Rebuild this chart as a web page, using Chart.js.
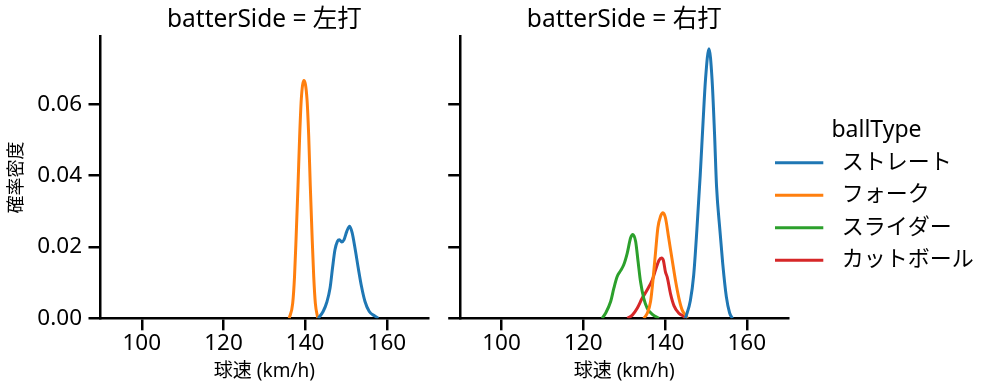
<!DOCTYPE html>
<html><head><meta charset="utf-8">
<script src="https://cdn.jsdelivr.net/npm/chart.js@4.4.1/dist/chart.umd.min.js"></script>
<style>
html,body{margin:0;padding:0;background:#fff;width:997px;height:391px;overflow:hidden;}
canvas{position:absolute;top:0;}
#c1{left:0;}
#c2{left:440px;}
</style></head><body>
<canvas id="c1" width="440" height="391"></canvas>
<canvas id="c2" width="557" height="391"></canvas>
<script>
// ---- data ----
const BALL_TYPES = ['ストレート', 'フォーク', 'スライダー', 'カットボール'];
const PANEL_TITLES = ['batterSide = 左打', 'batterSide = 右打'];
const X_LABEL = '球速 (km/h)';
const Y_LABEL = '確率密度';
const LEGEND_TITLE = 'ballType';
const X_TICKS = [100, 120, 140, 160];
const Y_TICKS = [0, 0.02, 0.04, 0.06];

// 左打
const LEFT_STRAIGHT_X = [143.2, 144.4, 145.3, 146.1, 146.7, 147.3, 147.9, 148.4, 148.95, 149.5, 150.2, 150.9, 151.5, 152.2, 153.0, 153.8, 154.65, 155.7, 157.1, 157.9];
const LEFT_STRAIGHT_Y = [0, 0.0019, 0.0045, 0.0085, 0.0141, 0.0192, 0.0216, 0.0220, 0.0214, 0.0220, 0.0244, 0.0258, 0.0240, 0.0197, 0.0141, 0.0089, 0.0047, 0.0019, 0.0006, 0];
const LEFT_FORK_X = [136.1, 136.95, 137.4, 137.8, 138.25, 138.66, 139.06, 139.7, 140.45, 140.87, 141.26, 141.7, 142.1, 142.5, 143.1];
const LEFT_FORK_Y = [0, 0.0042, 0.0117, 0.0230, 0.0371, 0.0512, 0.0615, 0.0667, 0.0615, 0.0512, 0.0371, 0.0230, 0.0117, 0.0042, 0];

// 右打
const RIGHT_STRAIGHT_X = [145.0, 146.2, 147.0, 147.8, 148.6, 149.3, 149.9, 150.75, 151.5, 152.1, 152.6, 153.4, 154.1, 155.0, 155.8, 156.5];
const RIGHT_STRAIGHT_Y = [0, 0.0050, 0.0120, 0.0250, 0.0400, 0.0550, 0.0670, 0.0756, 0.0670, 0.0520, 0.0370, 0.0250, 0.0155, 0.0060, 0.0015, 0];
const RIGHT_FORK_X = [134.8, 135.65, 136.46, 137.1, 137.7, 138.25, 138.9, 139.5, 140.1, 140.9, 141.8, 142.6, 143.4, 144.2, 145.0, 145.5];
const RIGHT_FORK_Y = [0, 0.0014, 0.0047, 0.0113, 0.0188, 0.0254, 0.0286, 0.0296, 0.0282, 0.0225, 0.0160, 0.0103, 0.0056, 0.0023, 0.0009, 0];
const RIGHT_SLIDER_X = [124.6, 125.45, 126.7, 127.5, 128.3, 129.1, 129.9, 130.76, 131.57, 132.1, 132.8, 133.4, 134.0, 134.8, 135.65, 136.9, 138.5];
const RIGHT_SLIDER_Y = [0, 0.0014, 0.0047, 0.0085, 0.0117, 0.0133, 0.0150, 0.0183, 0.0225, 0.0235, 0.0216, 0.0160, 0.0103, 0.0056, 0.0028, 0.0011, 0];
const RIGHT_CUT_X = [130.8, 132.0, 133.2, 134.4, 135.65, 136.9, 137.7, 138.5, 139.15, 139.6, 140.1, 140.55, 141.36, 142.2, 143.4, 144.6, 145.0];
const RIGHT_CUT_Y = [0, 0.0009, 0.0028, 0.0056, 0.0080, 0.0108, 0.0136, 0.0162, 0.0169, 0.0162, 0.0130, 0.0115, 0.0068, 0.0035, 0.0014, 0.0005, 0];

// ---- styling ----
const PALETTE = ['#1f77b4', '#ff7f0e', '#2ca02c', '#d62728'];
const FONT = '"Noto Sans", "Noto Sans CJK JP", sans-serif';
Chart.defaults.font.family = FONT;
Chart.defaults.color = '#000';

function pts(xs, ys) { return xs.map((x, i) => ({ x: x, y: ys[i] })); }
function ds(typeIdx, xs, ys) {
  return {
    label: BALL_TYPES[typeIdx],
    data: pts(xs, ys),
    borderColor: PALETTE[typeIdx],
    backgroundColor: PALETTE[typeIdx],
    borderWidth: 3,
    pointRadius: 0,
    fill: false,
    cubicInterpolationMode: 'monotone'
  };
}

const legendPlugin = {
  id: 'sideLegend',
  afterDraw(chart) {
    const ctx = chart.ctx;
    ctx.save();
    ctx.fillStyle = '#000';
    ctx.textBaseline = 'middle';
    ctx.textAlign = 'center';
    ctx.font = '23px ' + FONT;
    ctx.fillText(LEGEND_TITLE, 436.5, 130);
    ctx.textAlign = 'left';
    ctx.font = '22px ' + FONT;
    chart.data.datasets.forEach((d, i) => {
      const y = 162.7 + i * 32.5;
      ctx.strokeStyle = d.borderColor;
      ctx.lineWidth = 3;
      ctx.beginPath();
      ctx.moveTo(335, y);
      ctx.lineTo(383.3, y);
      ctx.stroke();
      ctx.fillText(d.label, 401.7, y);
    });
    ctx.restore();
  }
};

function makePanel(canvasId, title, datasets, yWidth, rightPad, showYLabels, plugins) {
  return new Chart(document.getElementById(canvasId), {
    type: 'line',
    data: { datasets: datasets },
    plugins: plugins,
    options: {
      responsive: false,
      animation: false,
      devicePixelRatio: 1,
      layout: { padding: { left: 0, right: rightPad, top: 0, bottom: 0 } },
      plugins: {
        legend: { display: false },
        tooltip: { enabled: false },
        title: {
          display: true, text: title, fullSize: false,
          color: '#000',
          font: { size: 24.5, weight: 'normal' },
          padding: { top: 5.3, bottom: 1.9 }
        }
      },
      scales: {
        x: {
          type: 'linear', min: 89.9, max: 170.15,
          afterFit: s => { s.height = 72.7; },
          afterBuildTicks: s => { s.ticks = X_TICKS.map(v => ({ value: v })); },
          grid: { display: true, drawOnChartArea: false, drawTicks: true, tickLength: 12, color: '#000', lineWidth: 2.5 },
          border: { display: true, color: '#000', width: 2.5 },
          ticks: { font: { size: 22.5 }, color: '#000', padding: 0, maxRotation: 0, callback: v => String(v) },
          title: { display: true, text: X_LABEL, color: '#000', font: { size: 19 }, padding: { top: 0, bottom: 8.3 } }
        },
        y: {
          type: 'linear', min: 0, max: 0.079,
          afterFit: s => { s.width = yWidth; },
          afterBuildTicks: s => { s.ticks = Y_TICKS.map(v => ({ value: v })); },
          grid: { display: true, drawOnChartArea: false, drawTicks: true, tickLength: 12, color: '#000', lineWidth: 2.5 },
          border: { display: true, color: '#000', width: 2.5 },
          ticks: { display: showYLabels, font: { size: 22.5 }, color: '#000', padding: 6.5, callback: v => Number(v).toFixed(2) },
          title: { display: showYLabels, text: Y_LABEL, color: '#000', font: { size: 18 }, padding: { top: 6.5, bottom: 0 } }
        }
      }
    }
  });
}

makePanel('c1', PANEL_TITLES[0], [
  ds(0, LEFT_STRAIGHT_X, LEFT_STRAIGHT_Y),
  ds(1, LEFT_FORK_X, LEFT_FORK_Y)
], 100.5, 440 - 428.3, true, []);

makePanel('c2', PANEL_TITLES[1], [
  ds(0, RIGHT_STRAIGHT_X, RIGHT_STRAIGHT_Y),
  ds(1, RIGHT_FORK_X, RIGHT_FORK_Y),
  ds(2, RIGHT_SLIDER_X, RIGHT_SLIDER_Y),
  ds(3, RIGHT_CUT_X, RIGHT_CUT_Y)
], 460.2 - 440, 557 - 348.3, false, [legendPlugin]);
</script>
</body></html>
